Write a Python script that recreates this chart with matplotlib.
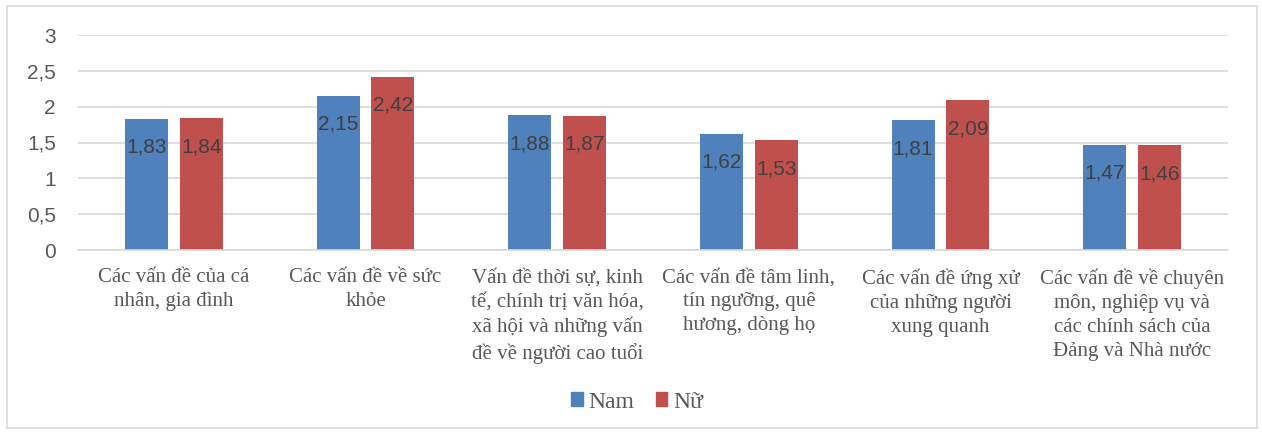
import matplotlib.pyplot as plt
from matplotlib.patches import Rectangle, Patch
import numpy as np

categories = [
    "Các vấn đề của cá\nnhân, gia đình",
    "Các vấn đề về sức\nkhỏe",
    "Vấn đề thời sự, kinh\ntế, chính trị văn hóa,\nxã hội và những vấn\nđề về người cao tuổi",
    "Các vấn đề tâm linh,\ntín ngưỡng, quê\nhương, dòng họ",
    "Các vấn đề ứng xử\ncủa những người\nxung quanh",
    "Các vấn đề về chuyên\nmôn, nghiệp vụ và\ncác chính sách của\nĐảng và Nhà nước",
]
nam = [1.83, 2.15, 1.88, 1.62, 1.81, 1.47]
nu = [1.84, 2.42, 1.87, 1.53, 2.09, 1.46]
series_names = ["Nam", "Nữ"]
yticks = [0, 0.5, 1, 1.5, 2, 2.5, 3]

BLUE = "#4F81BD"
RED = "#C0504D"
GRID = "#D9D9D9"
TEXT = "#595959"
SANS = ["Liberation Sans", "DejaVu Sans"]
SERIF = ["Liberation Serif", "DejaVu Serif"]

fig = plt.figure(figsize=(12.62, 4.32), dpi=100)
ax = fig.add_axes([78 / 1262, 1 - 250 / 432, (1228 - 78) / 1262, 215 / 432])

# outer chart border
fig.patches.append(Rectangle((7 / 1262, 4 / 432), 1250 / 1262, 422 / 432,
                             transform=fig.transFigure, fill=False,
                             edgecolor=GRID, linewidth=1.2))

x = np.arange(len(categories))
w = 0.224
off = 0.143
b1 = ax.bar(x - off, nam, w, color=BLUE, zorder=3)
b2 = ax.bar(x + off, nu, w, color=RED, zorder=3)

def fmt(v):
    return ("%.2f" % v).replace(".", ",")

for bars, vals in ((b1, nam), (b2, nu)):
    for r, v in zip(bars, vals):
        ax.annotate(fmt(v), (r.get_x() + r.get_width() / 2, v),
                    xytext=(0, -20.5), textcoords="offset points",
                    ha="center", va="center", fontsize=15,
                    family=SANS, color="#404040", zorder=4)

ax.set_xlim(-0.5, len(categories) - 0.5)
ax.set_ylim(0, 3)
ax.set_yticks(yticks)
ax.set_yticklabels([("%g" % t).replace(".", ",") for t in yticks],
                   family=SANS, fontsize=15, color=TEXT)
ax.set_xticks(x)
ax.set_xticklabels(categories, family=SERIF, fontsize=15, color=TEXT,
                   linespacing=1.36, va="top")
ax.tick_params(axis="both", length=0)
ax.tick_params(axis="y", pad=16)
ax.tick_params(axis="x", pad=13)
ax.yaxis.grid(True, color=GRID, linewidth=1.2, zorder=0)
for s in ("left", "right", "top"):
    ax.spines[s].set_visible(False)
ax.spines["bottom"].set_color(GRID)
ax.spines["bottom"].set_linewidth(1.2)
ax.spines["bottom"].set_zorder(3.5)

handles = [Patch(color=BLUE), Patch(color=RED)]
leg = fig.legend(handles, series_names, loc="center",
                 bbox_to_anchor=(637 / 1262, 1 - 402 / 432), ncol=2,
                 frameon=False, handlelength=0.5, handleheight=0.5,
                 handletextpad=0.25, columnspacing=0.9,
                 prop={"family": SERIF, "size": 17})
for t in leg.get_texts():
    t.set_color(TEXT)

fig.savefig("out.png", dpi=100)
